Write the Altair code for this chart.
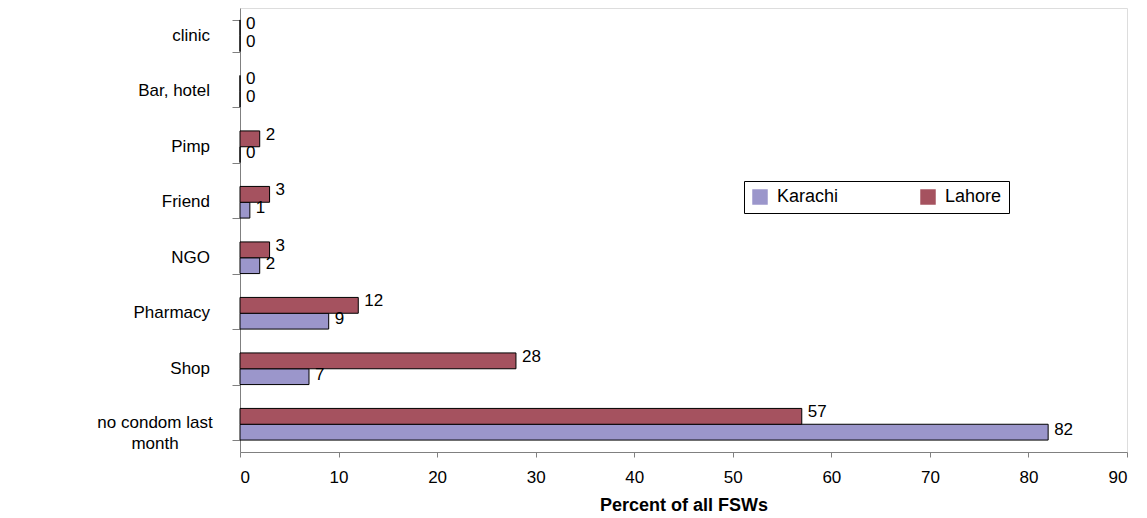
import altair as alt
import pandas as pd

categories = ["clinic", "Bar, hotel", "Pimp", "Friend", "NGO", "Pharmacy", "Shop", "no condom last month"]
cat_labels = ["clinic", "Bar, hotel", "Pimp", "Friend", "NGO", "Pharmacy", "Shop", "no condom last\nmonth"]
karachi = [0, 0, 0, 1, 2, 9, 7, 82]
lahore = [0, 0, 2, 3, 3, 12, 28, 57]
cities = ["Karachi", "Lahore"]
colors = ["#9b96cb", "#a5525f"]
x_ticks = [0, 10, 20, 30, 40, 50, 60, 70, 80, 90]

rows = []
for c, k, l in zip(categories, karachi, lahore):
    rows.append({"cat": c, "city": "Karachi", "val": k})
    rows.append({"cat": c, "city": "Lahore", "val": l})
df = pd.DataFrame(rows)
lab_df = pd.DataFrame({"cat": categories, "label": cat_labels,
                       "multi": ["\n" in s for s in cat_labels]})

FONT = "Liberation Sans"

y_scale = alt.Scale(paddingInner=0.43, paddingOuter=0.215)
y_enc = alt.Y(
    "cat:N", sort=categories, scale=y_scale,
    axis=alt.Axis(title=None, labels=False, tickSize=8, tickBand="extent",
                  tickColor="#808080", domainColor="#808080", grid=False),
)
yoff = alt.YOffset("city:N", sort=["Lahore", "Karachi"], scale=alt.Scale(paddingInner=0, paddingOuter=0))
x_enc = alt.X(
    "val:Q", scale=alt.Scale(domain=[0, 90], nice=False),
    axis=alt.Axis(title="Percent of all FSWs", values=x_ticks, labelFont=FONT, labelFontSize=17,
                  labelColor="#000", tickSize=5, labelPadding=12, tickColor="#808080",
                  domainColor="#808080", grid=False, titleFont=FONT, titleFontSize=18,
                  titleFontWeight="bold", titleColor="#000", titlePadding=11),
)

bars = alt.Chart(df).mark_bar(stroke="#000", strokeWidth=1).encode(
    x=x_enc, y=y_enc, yOffset=yoff,
    color=alt.Color("city:N", sort=cities, scale=alt.Scale(domain=cities, range=colors),
                    legend=alt.Legend(title=None, orient="none", legendX=504, legendY=173,
                                      direction="horizontal", strokeColor="#000", padding=7,
                                      symbolType="square", symbolSize=240, symbolStrokeWidth=0,
                                      labelFont=FONT, labelFontSize=18, labelColor="#000",
                                      columnPadding=80, labelOffset=8)),
)


def value_labels(city, dy):
    return alt.Chart(df).transform_filter(alt.datum.city == city).mark_text(
        align="left", baseline="middle", dx=6, dy=dy, font=FONT, fontSize=17, color="#000"
    ).encode(x="val:Q", y=alt.Y("cat:N", sort=categories), yOffset=yoff, text="val:Q")


texts_lah = value_labels("Lahore", -4)
texts_kar = value_labels("Karachi", -2)

single_labels = alt.Chart(lab_df).transform_filter("!datum.multi").mark_text(
    align="right", baseline="middle", font=FONT, fontSize=17, color="#000"
).encode(x=alt.value(-30), y=alt.Y("cat:N", sort=categories), text="label:N")

multi_labels = alt.Chart(lab_df).transform_filter("datum.multi").mark_text(
    align="center", baseline="middle", font=FONT, fontSize=17, color="#000",
    lineBreak="\n", lineHeight=21, dy=-1
).encode(x=alt.value(-85), y=alt.Y("cat:N", sort=categories), text="label:N")

chart = alt.layer(bars, texts_lah, texts_kar, single_labels, multi_labels).properties(
    width=887, height=444,
    autosize=alt.AutoSizeParams(type="none"),
    padding={"left": 232, "top": 0, "right": 12, "bottom": 62},
).configure_view(stroke="#c0c0c0", strokeWidth=1.5).configure(background="white")

chart.save("out.html", embed_options={"renderer": "svg", "actions": False})
